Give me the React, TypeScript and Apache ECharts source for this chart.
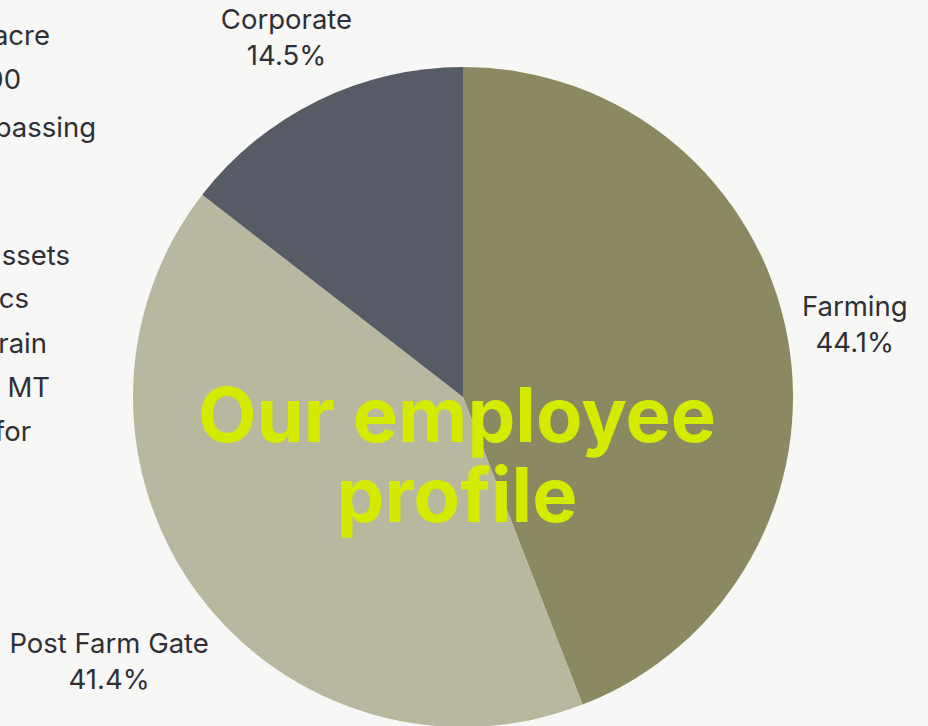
import React, { useEffect, useRef } from "react";
import * as echarts from "echarts";

// ---- data ----
const categories = ["Farming", "Post Farm Gate", "Corporate"];
const shares = [44.1, 41.4, 14.5];
const sliceColors = ["#8b8962", "#b8b8a0", "#565b65"];
const titleLines = ["Our employee", "profile"];
const sideFragments = ["acre", "00", "passing", "ssets", "cs", "rain", "MT", "for"];

// ---- layout (positions of the clipped side-column fragments) ----
const fragmentRightEdges = [50, 21, 96, 70, 29, 47, 50, 31];
const fragmentCenters = [35, 79, 127, 255, 298, 343, 387, 431];

const TEXT_COLOR = "#2f3037";
const FONT = "Inter, 'Noto Sans', sans-serif";
const LABEL_GAP = 10;

export default function App() {
  const ref = useRef<HTMLDivElement>(null);

  useEffect(() => {
    if (!ref.current) return;
    const chart = echarts.init(ref.current, undefined, { renderer: "svg" });

    const data = categories.map((name, i) => ({
      name,
      value: shares[i],
      itemStyle: { color: sliceColors[i] },
    }));

    const fragments = sideFragments.map((t, i) => ({
      type: "text",
      z: 50,
      style: {
        text: t,
        x: fragmentRightEdges[i],
        y: fragmentCenters[i],
        align: "right",
        verticalAlign: "middle",
        fill: TEXT_COLOR,
        font: `400 27.5px ${FONT}`,
      },
    }));

    chart.setOption({
      animation: false,
      backgroundColor: "#f7f7f5",
      graphic: [
        ...fragments,
        {
          type: "text",
          z: 100,
          style: {
            text: titleLines.join("\n"),
            x: 457,
            y: 454,
            align: "center",
            verticalAlign: "middle",
            lineHeight: 80,
            fill: "#d4ea00",
            font: `700 76px ${FONT}`,
          },
        },
      ],
      series: [
        {
          type: "pie",
          center: [463, 397],
          radius: 330,
          startAngle: 90,
          clockwise: true,
          avoidLabelOverlap: false,
          silent: true,
          emphasis: { disabled: true },
          itemStyle: { borderWidth: 0 },
          data,
          label: {
            show: true,
            position: "outside",
            overflow: "none",
            formatter: (p: any) => `${p.name}\n${p.value}%`,
            color: TEXT_COLOR,
            fontFamily: FONT,
            fontSize: 27.5,
            lineHeight: 36,
          },
          labelLine: {
            show: true,
            length: 20,
            length2: 0,
            lineStyle: { opacity: 0, width: 0 },
          },
          labelLayout: (p: any) => {
            const pts = p.labelLinePoints;
            if (!pts || pts.length < 2) return {};
            const [x0, y0] = pts[0];
            const [x1, y1] = pts[1];
            let dx = x1 - x0;
            let dy = y1 - y0;
            const L = Math.hypot(dx, dy) || 1;
            dx /= L;
            dy /= L;
            const w = p.labelRect.width;
            const h = p.labelRect.height;
            const d = LABEL_GAP + (Math.abs(dx) * w) / 2 + (Math.abs(dy) * h) / 2;
            return {
              x: x0 + dx * d,
              y: y0 + dy * d,
              align: "center",
              verticalAlign: "middle",
            };
          },
        },
      ],
    });

    return () => chart.dispose();
  }, []);

  return (
    <div
      ref={ref}
      style={{ position: "absolute", left: 0, top: 0, width: 928, height: 726 }}
    />
  );
}
